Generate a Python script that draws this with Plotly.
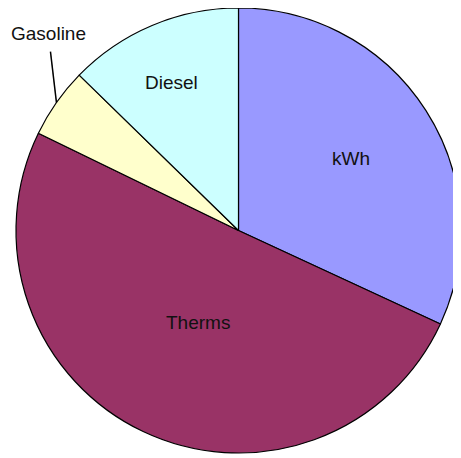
import math
import plotly.graph_objects as go

# ---- data ----
labels = ["kWh", "Therms", "Gasoline", "Diesel"]
values = [31.9, 50.3, 5.1, 12.7]
colors = ["#9999FF", "#993366", "#FFFFCC", "#CCFFFF"]

# ---- layout / style ----
OFF = 8                      # page body margin the figure sits inside
W, H = 461 - OFF, 458 - OFF  # figure size so it fits the window
# pie extent in window pixels
PIE_LEFT, PIE_RIGHT = 16, 461
PIE_TOP, PIE_BOTTOM = 8, 453
label_radius = [0.60, 0.45, None, 0.73]   # fraction of radius for inside labels
label_dangle = [0.0, -1.5, 0.0, -1.5]      # small angular tweak (deg)
FONT = dict(family="Liberation Sans, Arial, sans-serif", size=19, color="#111111")


def fx(px):
    return (px - OFF) / W


def fy(py):
    return 1 - (py - OFF) / H


fig = go.Figure(go.Pie(
    labels=labels,
    values=values,
    sort=False,
    direction="clockwise",
    rotation=0,
    marker=dict(colors=colors, line=dict(color="#000000", width=1.2)),
    textinfo="none",
    hoverinfo="label+value",
    showlegend=False,
    domain=dict(x=[max(0, fx(PIE_LEFT)), min(1, fx(PIE_RIGHT))],
                y=[max(0, fy(PIE_BOTTOM)), min(1, fy(PIE_TOP))]),
))

# actual pie geometry in window pixels
R = min(PIE_RIGHT - PIE_LEFT, PIE_BOTTOM - PIE_TOP) / 2
CX = (PIE_LEFT + PIE_RIGHT) / 2
CY = (PIE_TOP + PIE_BOTTOM) / 2

total = sum(values)
cum = 0.0
annotations = []
shapes = []
for lab, v, f, da in zip(labels, values, label_radius, label_dangle):
    mid = (cum + v / 2) / total * 2 * math.pi + math.radians(da)
    cum += v
    sx, sy = math.sin(mid), -math.cos(mid)
    if f is not None:
        annotations.append(dict(x=fx(CX + f * R * sx), y=fy(CY + f * R * sy),
                                xref="paper", yref="paper", text=lab,
                                showarrow=False, font=FONT,
                                xanchor="center", yanchor="middle"))
    else:
        # outside label with leader line
        ex, ey = CX + R * sx, CY + R * sy
        lx, ly = ex - 8, ey - 69          # label centre
        tx, ty = lx + 2, ly + 18          # leader end near label
        shapes.append(dict(type="line", xref="paper", yref="paper",
                           x0=fx(ex), y0=fy(ey), x1=fx(tx), y1=fy(ty),
                           line=dict(color="#000000", width=1.5)))
        annotations.append(dict(x=fx(lx), y=fy(ly), xref="paper", yref="paper",
                                text=lab, showarrow=False, font=FONT,
                                xanchor="center", yanchor="middle"))

fig.update_layout(
    width=W, height=H,
    margin=dict(l=0, r=0, t=0, b=0),
    paper_bgcolor="#FFFFFF",
    plot_bgcolor="#FFFFFF",
    annotations=annotations,
    shapes=shapes,
)

fig.write_html("out.html")
